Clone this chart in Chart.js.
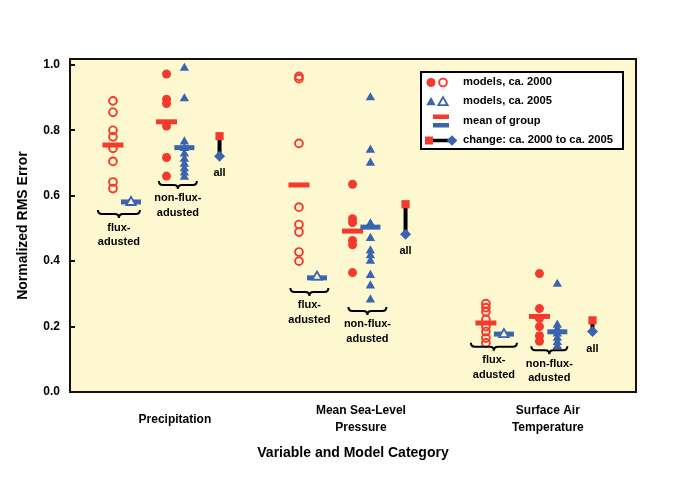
<!DOCTYPE html>
<html><head><meta charset="utf-8">
<script src="https://cdn.jsdelivr.net/npm/chart.js@4"></script>
<style>html,body{margin:0;padding:0;background:#fff;}canvas{display:block;}</style>
</head><body>
<canvas id="c" width="700" height="479"></canvas>
<script>
// ---------------- DATA ----------------
const variables = ["Precipitation", ["Mean Sea-Level", "Pressure"], ["Surface Air", "Temperature"]];
const groupLabels = [["flux-", "adusted"], ["non-flux-", "adusted"]];
const allLabel = "all";

// individual models, ca. 2000 (circles) — per variable
const flux2000 = [
  [0.890, 0.855, 0.800, 0.780, 0.745, 0.705, 0.642, 0.622],
  [0.965, 0.958, 0.760, 0.565, 0.512, 0.489, 0.428, 0.400],
  [0.270, 0.258, 0.245, 0.222, 0.200, 0.185, 0.165, 0.150]
];
const nonFlux2000 = [
  [0.972, 0.895, 0.882, 0.813, 0.717, 0.660],
  [0.635, 0.530, 0.518, 0.463, 0.450, 0.365],
  [0.362, 0.255, 0.225, 0.200, 0.172, 0.155]
];
// individual models, ca. 2005 (triangles)
const flux2005 = [
  [0.580],
  [0.352],
  [0.176]
];
const nonFlux2005 = [
  [0.990, 0.897, 0.765, 0.745, 0.728, 0.712, 0.697, 0.683, 0.670, 0.657],
  [0.900, 0.740, 0.700, 0.515, 0.470, 0.432, 0.417, 0.400, 0.357, 0.325, 0.282],
  [0.330, 0.205, 0.192, 0.178, 0.165, 0.152, 0.140]
];
// group means
const meanFlux2000 = [0.755, 0.633, 0.211];
const meanFlux2005 = [0.581, 0.349, 0.177];
const meanNonFlux2000 = [0.826, 0.492, 0.231];
const meanNonFlux2005 = [0.747, 0.504, 0.184];
// all models: change ca. 2000 -> ca. 2005
const all2000 = [0.782, 0.574, 0.219];
const all2005 = [0.721, 0.482, 0.185];

const yTicks = [0.0, 0.2, 0.4, 0.6, 0.8, 1.0];
const yTickLabels = ["0.0", "0.2", "0.4", "0.6", "0.8", "1.0"];
const legendLabels = ["models, ca. 2000", "models, ca. 2005", "mean of group", "change: ca. 2000 to ca. 2005"];

// ---------------- LAYOUT / STYLE ----------------
const RED = '#F43A2C', BLUE = '#3A64AE', CREAM = '#FEF8D0';
const FONT = '"Liberation Sans", Arial, Helvetica, sans-serif';
const GROUP_X = [0, 1.0, 2.005];
const OFF = { f00: 0, f05: 0.097, n00: 0.288, n05: 0.384, all: 0.573 };
const BRACES = [
  { g: 0, k: 0, off: 0.032, v: 0.544, hw: 21 },
  { g: 0, k: 1, off: 0.349, v: 0.633, hw: 19 },
  { g: 1, k: 0, off: 0.056, v: 0.306, hw: 19 },
  { g: 1, k: 1, off: 0.368, v: 0.248, hw: 19 },
  { g: 2, k: 0, off: 0.043, v: 0.138, hw: 23 },
  { g: 2, k: 1, off: 0.341, v: 0.128, hw: 18 }
];

function pts(arrs, off) {
  const out = [];
  arrs.forEach((a, g) => a.forEach(v => out.push({ x: GROUP_X[g] + off, y: v })));
  return out;
}
function one(arr, off) { return arr.map((v, g) => ({ x: GROUP_X[g] + off, y: v })); }

const changeSets = all2000.map((v, g) => ({
  showLine: true,
  data: [{ x: GROUP_X[g] + OFF.all, y: v }, { x: GROUP_X[g] + OFF.all, y: all2005[g] }],
  borderColor: '#000', borderWidth: 4, tension: 0,
  pointStyle: c => c.dataIndex === 0 ? 'rect' : 'rectRot',
  pointBackgroundColor: c => c.dataIndex === 0 ? RED : BLUE,
  pointBorderColor: c => c.dataIndex === 0 ? RED : BLUE,
  pointBorderWidth: 0,
  pointRadius: c => c.dataIndex === 0 ? 5.8 : 5.5
}));

const datasets = [
  ...changeSets,
  { data: pts(flux2005, OFF.f05), pointStyle: 'triangle', pointRadius: 5.4, pointBorderWidth: 1.8,
    pointBorderColor: BLUE, pointBackgroundColor: CREAM },
  { data: pts(nonFlux2005, OFF.n05), pointStyle: 'triangle', pointRadius: 5.4, pointBorderWidth: 0,
    pointBorderColor: BLUE, pointBackgroundColor: BLUE },
  { data: one(meanFlux2005, OFF.f05).concat(one(meanNonFlux2005, OFF.n05)), pointStyle: 'line',
    pointRadius: 10, pointBorderWidth: 5, pointBorderColor: BLUE, pointBackgroundColor: BLUE },
  { data: one(meanFlux2000, OFF.f00).concat(one(meanNonFlux2000, OFF.n00)), pointStyle: 'line',
    pointRadius: 10.5, pointBorderWidth: 5, pointBorderColor: RED, pointBackgroundColor: RED },
  { data: pts(flux2000, OFF.f00), pointStyle: 'circle', pointRadius: 3.9, pointBorderWidth: 1.9,
    pointBorderColor: RED, pointBackgroundColor: 'rgba(0,0,0,0)' },
  { data: pts(nonFlux2000, OFF.n00), pointStyle: 'circle', pointRadius: 4.5, pointBorderWidth: 0,
    pointBorderColor: RED, pointBackgroundColor: RED }
];

function brace(ctx, cx, y, hw) {
  const h = 4;
  ctx.beginPath();
  ctx.moveTo(cx - hw, y - h);
  ctx.quadraticCurveTo(cx - hw, y, cx - hw + h, y);
  ctx.lineTo(cx - h, y);
  ctx.quadraticCurveTo(cx, y, cx, y + h);
  ctx.quadraticCurveTo(cx, y, cx + h, y);
  ctx.lineTo(cx + hw - h, y);
  ctx.quadraticCurveTo(cx + hw, y, cx + hw, y - h);
  ctx.stroke();
}
function tri(ctx, x, y, r, fill, stroke, lw) {
  ctx.beginPath();
  ctx.moveTo(x, y - r);
  ctx.lineTo(x + r * Math.sin(Math.PI * 2 / 3), y + r / 2);
  ctx.lineTo(x - r * Math.sin(Math.PI * 2 / 3), y + r / 2);
  ctx.closePath();
  if (fill) { ctx.fillStyle = fill; ctx.fill(); }
  if (stroke) { ctx.strokeStyle = stroke; ctx.lineWidth = lw; ctx.stroke(); }
}

const decor = {
  id: 'decor',
  beforeDraw(chart) {
    const { ctx, chartArea: a } = chart;
    ctx.save();
    ctx.fillStyle = '#fff'; ctx.fillRect(0, 0, chart.width, chart.height);
    ctx.fillStyle = CREAM; ctx.fillRect(a.left, a.top, a.right - a.left, a.bottom - a.top);
    ctx.restore();
  },
  afterDraw(chart) {
    const { ctx, chartArea: a, scales: { x, y } } = chart;
    ctx.save();
    ctx.strokeStyle = '#111'; ctx.lineWidth = 2;
    ctx.strokeRect(a.left, a.top, a.right - a.left, a.bottom - a.top);
    // inward tick marks
    yTicks.forEach(v => {
      const py = Math.round(y.getPixelForValue(v));
      ctx.beginPath(); ctx.moveTo(a.left, py); ctx.lineTo(a.left + 5, py); ctx.stroke();
    });
    // braces + group labels
    ctx.fillStyle = '#000'; ctx.strokeStyle = '#000'; ctx.lineWidth = 2;
    ctx.font = 'bold 11px ' + FONT; ctx.textAlign = 'center'; ctx.textBaseline = 'middle';
    BRACES.forEach(b => {
      const cx = x.getPixelForValue(GROUP_X[b.g] + b.off);
      const py = y.getPixelForValue(b.v);
      brace(ctx, cx, py, b.hw);
      groupLabels[b.k].forEach((t, i) => ctx.fillText(t, cx, py + 13.5 + i * 14.5));
    });
    all2005.forEach((v, g) => {
      ctx.fillText(allLabel, x.getPixelForValue(GROUP_X[g] + OFF.all), y.getPixelForValue(v) + 17);
    });
    // legend
    const L = 421, T = 72, R = 623, B = 149;
    ctx.fillStyle = '#fff'; ctx.fillRect(L, T, R - L, B - T);
    ctx.strokeStyle = '#000'; ctx.lineWidth = 2; ctx.strokeRect(L, T, R - L, B - T);
    const rows = [82.5, 101.5, 121, 140.5];
    // row 1: circles
    ctx.fillStyle = RED; ctx.beginPath(); ctx.arc(431, rows[0], 4.5, 0, Math.PI * 2); ctx.fill();
    ctx.strokeStyle = RED; ctx.lineWidth = 1.9; ctx.beginPath(); ctx.arc(443, rows[0], 3.9, 0, Math.PI * 2); ctx.stroke();
    // row 2: triangles
    tri(ctx, 431, rows[1] + 1, 5.4, BLUE, null, 0);
    tri(ctx, 443, rows[1] + 1, 5.4, null, BLUE, 1.8);
    // row 3: mean bars
    ctx.fillStyle = RED; ctx.fillRect(433, 114.5, 16, 4.5);
    ctx.fillStyle = BLUE; ctx.fillRect(433, 123, 16, 4.5);
    // row 4: change
    ctx.strokeStyle = '#000'; ctx.lineWidth = 3.5; ctx.beginPath(); ctx.moveTo(429, rows[3]); ctx.lineTo(451, rows[3]); ctx.stroke();
    ctx.fillStyle = RED; ctx.fillRect(425, rows[3] - 4, 8, 8);
    ctx.fillStyle = BLUE; ctx.beginPath();
    ctx.moveTo(452, rows[3] - 5.3); ctx.lineTo(457.3, rows[3]); ctx.lineTo(452, rows[3] + 5.3); ctx.lineTo(446.7, rows[3]); ctx.closePath(); ctx.fill();
    ctx.fillStyle = '#000'; ctx.font = 'bold 11.2px ' + FONT; ctx.textAlign = 'left';
    legendLabels.forEach((t, i) => ctx.fillText(t, 463, rows[i] - 0.5));
    ctx.restore();
  }
};

Chart.defaults.font.family = FONT;
Chart.defaults.color = '#000';

new Chart(document.getElementById('c'), {
  type: 'scatter',
  data: { datasets },
  options: {
    responsive: false,
    animation: false,
    events: [],
    layout: { padding: { left: 0, top: 59, right: 64, bottom: 0 } },
    plugins: { legend: { display: false }, tooltip: { enabled: false } },
    scales: {
      x: {
        type: 'linear', position: 'bottom', min: -0.231, max: 2.812,
        grid: { display: false, drawTicks: false }, border: { display: false },
        afterBuildTicks: s => { s.ticks = GROUP_X.map(g => ({ value: g + 0.333 })); },
        afterFit: s => { s.height = 87; },
        ticks: {
          autoSkip: false, maxRotation: 0, minRotation: 0, padding: 19, crossAlign: 'center',
          color: '#000', font: { family: FONT, size: 12, weight: 'bold', lineHeight: 1.4 },
          callback: (v, i) => variables[i]
        },
        title: { display: true, text: 'Variable and Model Category', color: '#000',
          font: { family: FONT, size: 14, weight: 'bold' }, padding: { top: 0, bottom: 17 } }
      },
      y: {
        type: 'linear', position: 'left', min: 0, max: 1.018,
        grid: { display: false, drawTicks: false }, border: { display: false },
        afterBuildTicks: s => { s.ticks = yTicks.map(v => ({ value: v })); },
        afterFit: s => { s.width = 70; },
        ticks: { padding: 10, color: '#000', font: { family: FONT, size: 12, weight: 'bold' },
          callback: (v, i) => yTickLabels[i] },
        title: { display: true, text: 'Normalized RMS Error', color: '#000',
          font: { family: FONT, size: 14, weight: 'bold' }, padding: { top: 15, bottom: 0 } }
      }
    }
  },
  plugins: [decor]
});
</script>
</body></html>
